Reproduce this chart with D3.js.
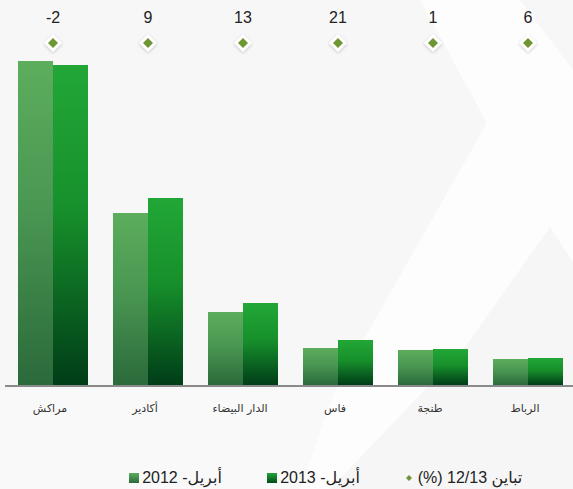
<!DOCTYPE html>
<html>
<head>
<meta charset="utf-8">
<script src="https://cdn.jsdelivr.net/npm/d3@7"></script>
<style>
  html, body { margin: 0; padding: 0; background: #ffffff; }
  svg { display: block; font-family: "Liberation Sans", Arial, "DejaVu Sans", sans-serif; }
</style>
</head>
<body>
<svg id="chart" width="573" height="489"></svg>
<script>
// ---- data ----
const cities = ["مراكش", "أكادير", "الدار البيضاء", "فاس", "طنجة", "الرباط"];
const values2012 = [324, 172, 73, 37, 35, 26];
const values2013 = [320, 187, 82, 45, 36, 27];
const variation = [-2, 9, 13, 21, 1, 6];
const seriesNames = ["أبريل- 2012", "أبريل- 2013"];
const variationName = "تباين 12/13 (%)";

const W = 573, H = 489;
const svg = d3.select("#chart");

// ---- background (faint chevrons) ----
const bg = svg.append("g");
bg.append("rect").attr("width", W).attr("height", H).attr("fill", "#fdfdfd");
bg.append("polygon").attr("points", "0,0 420,0 487,123 335,390 0,390").attr("fill", "#f7f7f7");
bg.append("polygon").attr("points", "0,390 335,390 300,489 0,489").attr("fill", "#f9f9f9");
bg.append("polygon").attr("points", "550,227 573,262 573,489 330,489 463,350").attr("fill", "#f6f6f6");
bg.append("polygon").attr("points", "520,0 573,0 573,70").attr("fill", "#f7f7f7");

// ---- gradients ----
const defs = svg.append("defs");
function grad(id, stops) {
  const g = defs.append("linearGradient").attr("id", id)
    .attr("x1", 0).attr("y1", 0).attr("x2", 0).attr("y2", 1);
  stops.forEach(s => g.append("stop").attr("offset", s[0]).attr("stop-color", s[1]));
}
grad("g2012", [[0, "#5dad5d"], [0.45, "#4a9752"], [1, "#2b6a3b"]]);
grad("g2013", [[0, "#22a737"], [0.45, "#17902b"], [1, "#003d18"]]);
grad("gsw2012", [[0, "#5dad5d"], [1, "#2b6a3b"]]);
grad("gsw2013", [[0, "#22a737"], [1, "#004a1c"]]);
const shadow = defs.append("filter").attr("id", "shadow")
  .attr("x", "-50%").attr("y", "-50%").attr("width", "200%").attr("height", "200%");
shadow.append("feDropShadow").attr("dx", 0).attr("dy", 1).attr("stdDeviation", 1.5)
  .attr("flood-color", "#000").attr("flood-opacity", 0.22);

// ---- scales ----
const x = d3.scaleBand().domain(cities).range([5.5, 575.5])
  .paddingInner(0.263).paddingOuter(0.1315);
const xs = d3.scaleBand().domain([0, 1]).range([0, x.bandwidth()]);
const y = d3.scaleLinear().domain([0, 330]).range([385, 55]);

// ---- bars ----
const series = [values2012, values2013];
const fills = ["url(#g2012)", "url(#g2013)"];
series.forEach((vals, si) => {
  svg.append("g").selectAll("rect").data(vals).join("rect")
    .attr("x", (d, i) => x(cities[i]) + xs(si))
    .attr("y", d => y(d))
    .attr("width", xs.bandwidth())
    .attr("height", d => y(0) - y(d))
    .attr("fill", fills[si]);
});

// ---- baseline axis ----
const axis = svg.append("g").attr("transform", `translate(0,${y(0) + 1})`)
  .call(d3.axisBottom(x).tickSize(0).tickPadding(20));
axis.select(".domain").attr("d", "M5,0H573").attr("stroke", "#8a8a8a").attr("stroke-width", 2);
axis.selectAll(".tick text")
  .attr("font-size", 11).attr("fill", "#333")
  .attr("font-family", "'DejaVu Sans', sans-serif")
  .attr("dx", -3).attr("dy", 6);

// ---- variation markers ----
const mg = svg.append("g").selectAll("g").data(variation).join("g")
  .attr("transform", (d, i) => `translate(${x(cities[i]) + x.bandwidth() / 2},43)`);
mg.append("path").attr("d", "M0,-9L9,0L0,9L-9,0Z").attr("fill", "#fff").attr("filter", "url(#shadow)");
mg.append("path").attr("d", "M0,-5L5,0L0,5L-5,0Z").attr("fill", "#6e9633");
svg.append("g").selectAll("text").data(variation).join("text")
  .attr("x", (d, i) => x(cities[i]) + x.bandwidth() / 2)
  .attr("y", 23)
  .attr("text-anchor", "middle")
  .attr("font-size", 16)
  .attr("fill", "#222")
  .text(d => d);

// ---- legend ----
const lg = svg.append("g");
const legendItems = [
  { sw: 129, cx: 182, name: seriesNames[0], fill: "url(#gsw2012)" },
  { sw: 267, cx: 320, name: seriesNames[1], fill: "url(#gsw2013)" }
];
legendItems.forEach(it => {
  lg.append("rect").attr("x", it.sw).attr("y", 473).attr("width", 10).attr("height", 10).attr("fill", it.fill);
  lg.append("text").attr("x", it.cx).attr("y", 483).attr("text-anchor", "middle")
    .attr("direction", "rtl").attr("font-size", 16).attr("fill", "#222")
    .text(it.name);
});
lg.append("path").attr("d", "M409,475L412,478L409,481L406,478Z").attr("fill", "#6e9633");
lg.append("text").attr("x", 470).attr("y", 483).attr("text-anchor", "middle")
  .attr("direction", "rtl").attr("font-size", 16).attr("fill", "#222")
  .text(variationName);
</script>
</body>
</html>
